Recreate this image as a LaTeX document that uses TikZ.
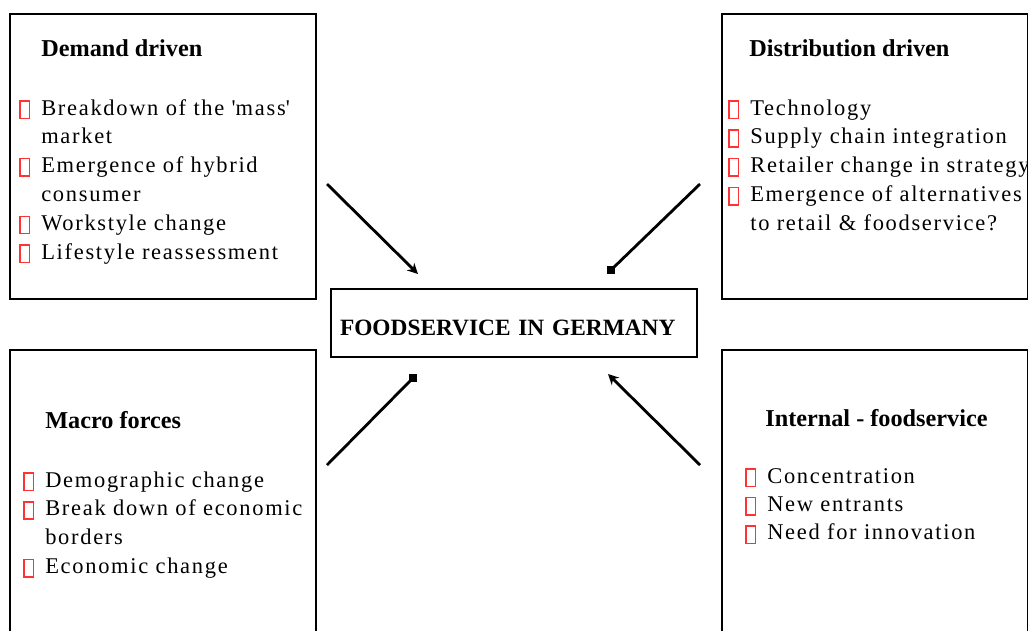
\documentclass[tikz,border=0pt]{standalone}
\usepackage{fontspec}
\setmainfont{Liberation Serif}
\newfontfamily\itemfont[LetterSpace=7.5]{Liberation Serif}
\usetikzlibrary{arrows.meta}

\newcommand{\tofu}{{\color{red!80}\setlength{\fboxsep}{0pt}\setlength{\fboxrule}{0.85pt}\fbox{\rule[-1.5pt]{0pt}{9pt}\hspace{4.4pt}}}}
\newcommand{\bul}{\makebox[12.5pt][l]{\tofu}}
\newcommand{\cont}{\hspace*{12.5pt}}

\tikzset{
  panel/.style={draw, line width=1.1pt, minimum width=6.12cm, minimum height=5.7cm, anchor=north west, inner sep=0pt},
  head/.style={anchor=base west, inner sep=0pt, font=\fontsize{13.8}{16}\selectfont\bfseries},
  items/.style={anchor=base west, inner sep=0pt, font=\itemfont\fontsize{12.8}{16.4}\selectfont},
  push/.style={line width=1.6pt, -{Stealth[length=6pt,width=6pt]}},
  feed/.style={line width=1.6pt},
  stub/.style={fill, minimum size=4.5pt, inner sep=0pt}
}

\begin{document}
\begin{tikzpicture}[x=0.02cm, y=-0.02cm]
\clip (0,0) rectangle (1028,630);

% the four panels
\node[panel] (demand) at (9,13) {};
\node[panel] (distrib) at (721,13) {};
\node[panel, minimum height=6cm] (macro) at (9,349) {};
\node[panel, minimum height=6cm] (internal) at (721,349) {};

\node[draw, line width=1.1pt, text width=6.96cm, inner xsep=0.18cm, minimum height=1.36cm, align=left,
      text height=13.8pt, text depth=0pt,
      font=\fontsize{13.3}{16}\selectfont\bfseries] (food) at (514,323) {FOODSERVICE IN GERMANY};

\node[head] (demandHd) at (41,56) {Demand driven};
\node[items] (demandList) at (19,115) {\parbox[t]{7cm}{%
  \bul Breakdown of the \textquotesingle mass\textquotesingle\\
  \cont market\\
  \bul Emergence of hybrid\\
  \cont consumer\\
  \bul Workstyle change\\
  \bul Lifestyle reassessment}};

\node[head] (distribHd) at (749,56) {Distribution driven};
\node[items] (distribList) at (728,115) {\parbox[t]{7cm}{%
  \bul Technology\\
  \bul Supply chain integration\\
  \bul Retailer change in strategy\\
  \bul Emergence of alternatives\\
  \cont to retail \& foodservice?}};

\node[head] (macroHd) at (45,428) {Macro forces};
\node[items] (macroList) at (23,487) {\parbox[t]{7cm}{%
  \bul Demographic change\\
  \bul Break down of economic\\
  \cont borders\\
  \bul Economic change}};

\node[head] (internalHd) at (765,426) {Internal - foodservice};
\node[items] (internalList) at (745,483) {\parbox[t]{7cm}{\baselineskip=16.2pt
  \bul Concentration\\
  \bul New entrants\\
  \bul Need for innovation}};

% arrows toward the centre
\coordinate (dFrom) at (327,184);  \coordinate (dTo) at (418,274);
\coordinate (tFrom) at (700,184);
\coordinate (mFrom) at (327,465);
\coordinate (iFrom) at (700,465);  \coordinate (iTo) at (608,374);
\node[stub] (tTo) at (611,270) {};
\node[stub] (mTo) at (413,378) {};

\draw[push] (dFrom) -- (dTo);
\draw[feed] (tFrom) -- (tTo.center);
\draw[feed] (mFrom) -- (mTo.center);
\draw[push] (iFrom) -- (iTo);
\end{tikzpicture}
\end{document}
